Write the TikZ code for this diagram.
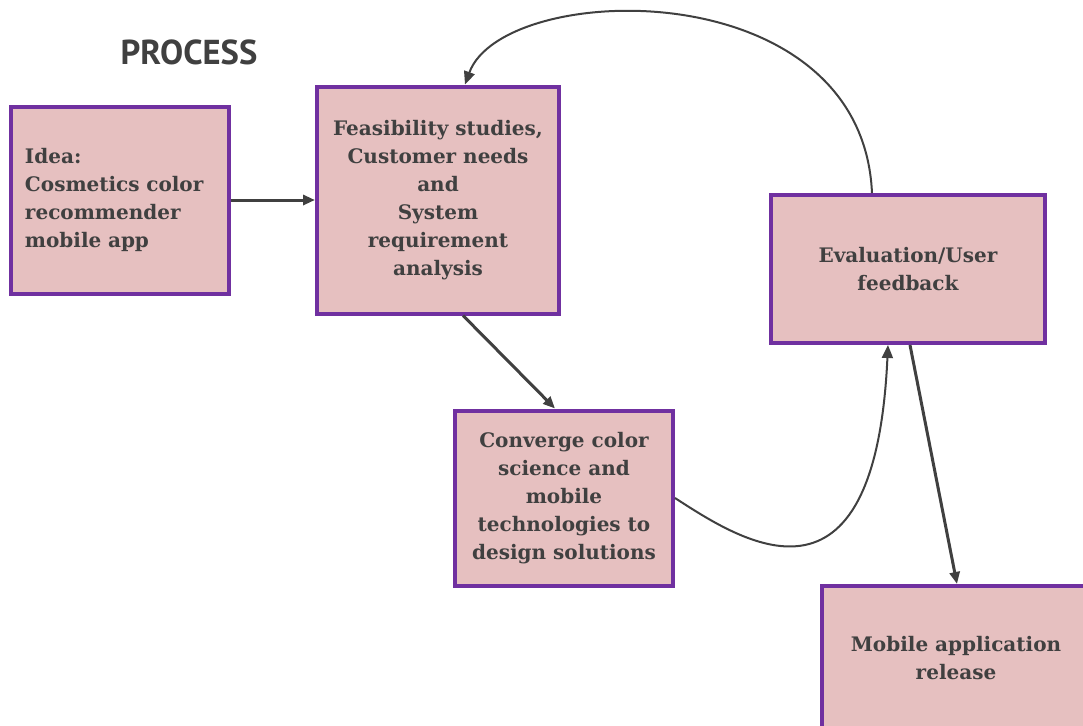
\documentclass[tikz,border=0pt]{standalone}
\usepackage{fontspec}
\usetikzlibrary{arrows.meta,shadows}
\newfontfamily\boxfont{DejaVu Serif}
\newfontfamily\titlefont{PT Sans}
\definecolor{boxfill}{HTML}{E6C0C0}
\definecolor{boxline}{HTML}{7030A0}
\definecolor{ink}{HTML}{404040}
\tikzset{
  stagebox/.style={draw=boxline, line width=2pt, fill=boxfill, text=ink,
    font=\boxfont\bfseries\fontsize{10}{14}\selectfont, align=center,
    inner sep=0pt, drop shadow={opacity=0.35, shadow xshift=1pt, shadow yshift=-1pt}},
  thickarrow/.style={draw=ink, line width=1.5pt, -{Triangle[length=6pt,width=5pt]}},
  thinarrow/.style={draw=ink, line width=1pt, -{Triangle[length=6.5pt,width=5.5pt]}}
}
\begin{document}
\begin{tikzpicture}[x=0.5pt,y=-0.5pt]
\useasboundingbox (0,0) rectangle (1083,725);
\clip (0,0) rectangle (1083,725);
\node[font=\titlefont\bfseries\fontsize{17.3}{19}\selectfont, text=ink] (title) at (189,52) {PROCESS};
\node[stagebox, minimum width=109pt, minimum height=93.5pt, text width=95pt, align=left] (idea) at (120,200)
  {Idea:\\Cosmetics color\\recommender\\mobile app};
\node[stagebox, minimum width=121pt, minimum height=113.5pt] (feas) at (438,200)
  {Feasibility studies,\\Customer needs\\and\\System\\requirement\\analysis};
\node[stagebox, minimum width=109pt, minimum height=87.5pt] (conv) at (564,498)
  {Converge color\\science and\\mobile\\technologies to\\design solutions};
\node[stagebox, minimum width=137pt, minimum height=74pt] (eval) at (908,269)
  {Evaluation/User\\feedback};
\node[stagebox, minimum width=134pt, minimum height=72pt] (rel) at (956,658)
  {Mobile application\\release};
\draw[thickarrow] (idea.east) -- (feas.west |- idea.east);
\draw[thickarrow] ([xshift=74pt]feas.south west) -- ([xshift=51pt]conv.north west);
\draw[thinarrow] (conv.east) .. controls (740,540) and (875,630) .. ([xshift=-10pt]eval.south);
\draw[thickarrow] ([xshift=1pt]eval.south) -- ([xshift=0.5pt]rel.north);
\draw[thinarrow] ([xshift=-18pt]eval.north) .. controls (862,-30) and (503,-20) .. ([xshift=13.5pt]feas.north);
\end{tikzpicture}
\end{document}
